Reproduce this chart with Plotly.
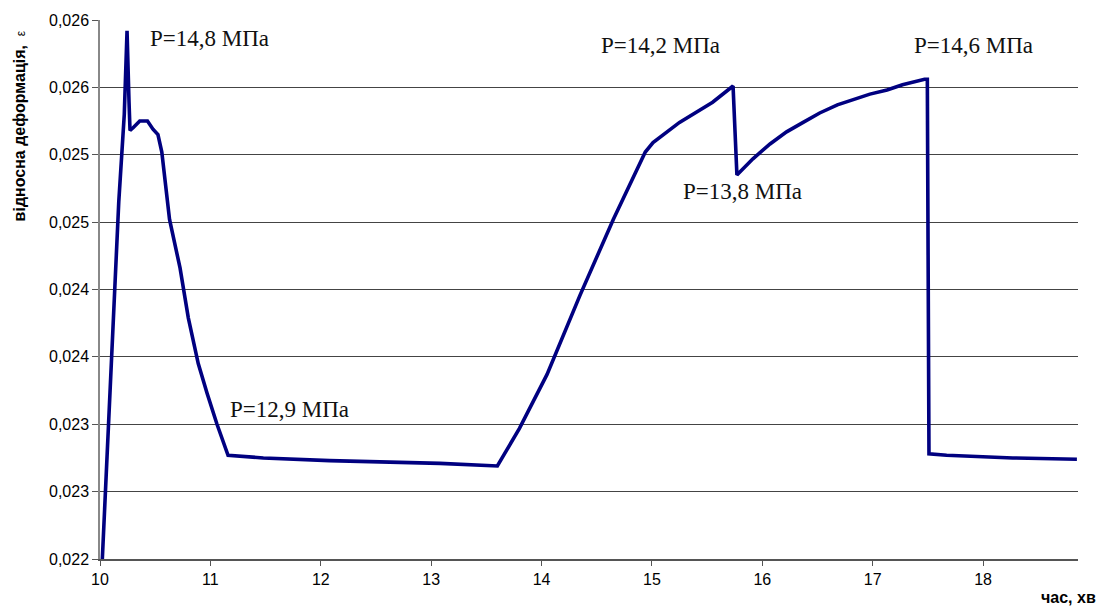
import plotly.graph_objects as go

# time, min
time_min = [10.02, 10.09, 10.17, 10.22, 10.245, 10.263, 10.272, 10.30, 10.36, 10.43,
            10.48, 10.525, 10.56, 10.63, 10.725, 10.80, 10.89, 10.97, 11.06, 11.16,
            11.48, 12.08, 12.51, 13.08, 13.60, 13.80, 14.05, 14.35, 14.65, 14.94,
            15.01, 15.25, 15.55, 15.735, 15.77, 15.915, 16.07, 16.22, 16.37, 16.52,
            16.68, 16.82, 16.975, 17.13, 17.27, 17.47, 17.495, 17.51, 17.67, 18.27, 18.85]
# relative strain
strain = [0.02198, 0.02317, 0.02465, 0.02530, 0.02592, 0.02539, 0.02518, 0.02520, 0.02525, 0.02525,
          0.02519, 0.02515, 0.02502, 0.02452, 0.02416, 0.02379, 0.02345, 0.02323, 0.02300, 0.02277,
          0.02275, 0.02273, 0.02272, 0.02271, 0.02269, 0.02297, 0.02337, 0.02396, 0.02452, 0.02502,
          0.02509, 0.02524, 0.02539, 0.02551, 0.02485, 0.02497, 0.02508, 0.02517, 0.02524, 0.02531,
          0.02537, 0.02541, 0.02545, 0.02548, 0.02552, 0.02556, 0.02556, 0.02278, 0.02277, 0.02275, 0.02274]

y_ticks = [0.022, 0.0225, 0.023, 0.0235, 0.024, 0.0245, 0.025, 0.0255, 0.026]
y_tick_text = ["0,022", "0,023", "0,023", "0,024", "0,024", "0,025", "0,025", "0,026", "0,026"]
x_ticks = [10, 11, 12, 13, 14, 15, 16, 17, 18]

labels = ["P=14,8 МПа", "P=14,2 МПа", "P=13,8 МПа", "P=14,6 МПа", "P=12,9 МПа"]
label_x = [10.99, 15.08, 15.82, 17.91, 11.72]
label_y = [0.02586, 0.02581, 0.02473, 0.02581, 0.02311]

fig = go.Figure()
fig.add_trace(go.Scatter(x=time_min, y=strain, mode="lines",
                         line=dict(color="#000080", width=3.6), showlegend=False))

for t, lx, ly in zip(labels, label_x, label_y):
    fig.add_annotation(x=lx, y=ly, text=t, showarrow=False, xanchor="center", yanchor="middle",
                       font=dict(family="Liberation Serif, Times New Roman, serif",
                                 size=23, color="#111"))

fig.add_annotation(xref="paper", yref="paper", x=-0.082, y=0.985, textangle=-90,
                   text="<b>відносна деформація,</b>  <span style='font-size:12px'>ε</span>",
                   showarrow=False, xanchor="center", yanchor="top",
                   font=dict(family="Liberation Sans, Arial, sans-serif", size=16, color="#000"))
fig.add_annotation(xref="paper", yref="paper", x=1.02, y=-0.072, text="<b>час, хв</b>",
                   showarrow=False, xanchor="right", yanchor="middle",
                   font=dict(family="Liberation Sans, Arial, sans-serif", size=16, color="#000"))

fig.update_layout(
    width=1102, height=608,
    margin=dict(l=100, r=24, t=17, b=49),
    paper_bgcolor="white", plot_bgcolor="white",
    font=dict(family="Liberation Sans, Arial, sans-serif", size=16, color="#000"),
)
fig.update_xaxes(range=[10, 18.86], tickvals=x_ticks, ticktext=[str(v) for v in x_ticks],
                 showgrid=False, zeroline=False, showline=True, linecolor="#555", linewidth=1.5,
                 ticks="outside", ticklen=5, tickcolor="#555")
fig.update_yaxes(range=[0.022, 0.026], tickvals=y_ticks, ticktext=y_tick_text,
                 showgrid=True, gridcolor="#444", gridwidth=1, zeroline=False,
                 showline=True, linecolor="#888", linewidth=1.5,
                 ticks="outside", ticklen=6, tickcolor="#555")

fig.write_html("out.html")
